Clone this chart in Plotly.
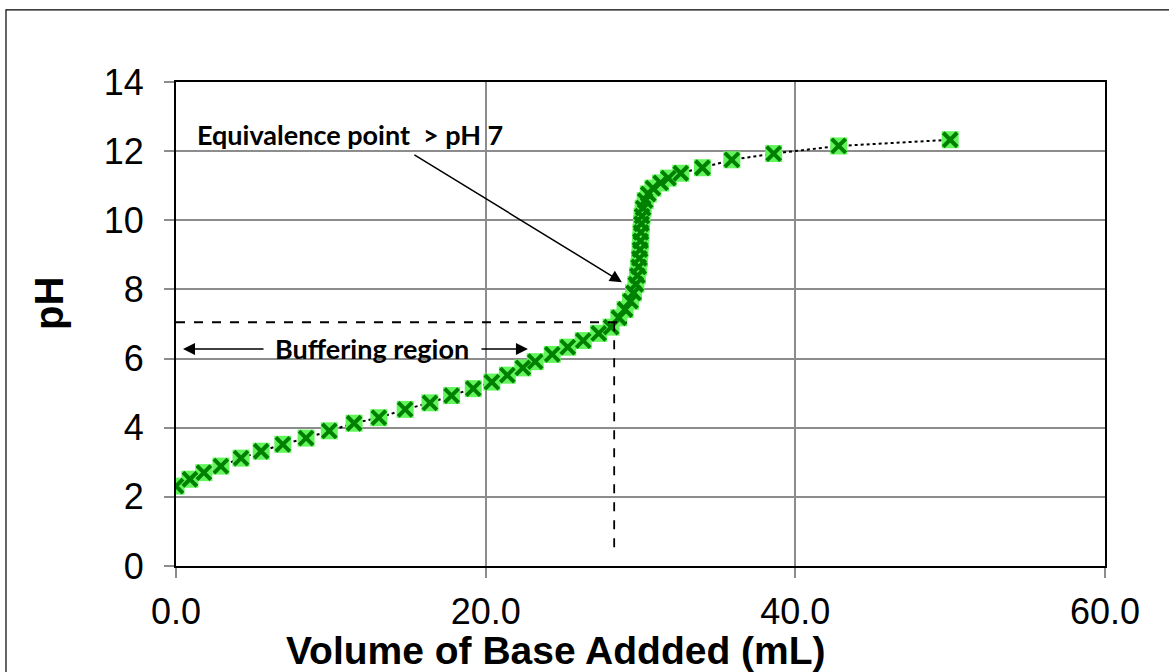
import plotly.graph_objects as go

# Titration data: volume of base added (mL) and pH
volume_ml = [0, 0.9, 1.8, 2.9, 4.2, 5.5, 6.9, 8.4, 9.9, 11.5, 13.1, 14.8, 16.4, 17.8,
             19.2, 20.4, 21.4, 22.4, 23.2, 24.3, 25.3, 26.3, 27.3, 28.1, 28.6, 29.0,
             29.35, 29.55, 29.7, 29.8, 29.88, 29.93, 29.97, 30.0, 30.03, 30.06, 30.1,
             30.17, 30.3, 30.5, 30.8, 31.3, 31.8, 32.6, 34.0, 35.9, 38.6, 42.8, 50.0]
ph_values = [2.31, 2.51, 2.70, 2.89, 3.12, 3.32, 3.52, 3.70, 3.91, 4.13, 4.29, 4.53, 4.72,
             4.93, 5.13, 5.32, 5.52, 5.73, 5.91, 6.12, 6.33, 6.52, 6.73, 6.91, 7.18, 7.42,
             7.66, 7.90, 8.15, 8.40, 8.65, 8.90, 9.15, 9.40, 9.65, 9.90, 10.12, 10.35,
             10.57, 10.76, 10.93, 11.08, 11.22, 11.36, 11.52, 11.75, 11.93, 12.15, 12.33]

x_ticks = [0, 20, 40, 60]
y_ticks = [0, 2, 4, 6, 8, 10, 12, 14]

# Reference guide values
guide_volume = 28.3
guide_ph = 7.05
guide_h_end = 29.1
guide_v_bottom = 0.33

# Annotation anchor values (data units)
eq_label_pos = (1.2, 12.47)
eq_arrow_tail = (15.3, 11.92)
eq_arrow_head = (28.8, 8.21)
buf_label_pos = (12.66, 6.28)
buf_left_tail, buf_left_head = 5.75, 0.45
buf_right_tail, buf_right_head = 19.63, 22.73

fig = go.Figure()

fig.add_trace(go.Scatter(
    x=volume_ml, y=ph_values, mode="lines",
    line=dict(color="black", width=2, dash="dot"),
    hoverinfo="skip", showlegend=False))
fig.add_trace(go.Scatter(
    x=volume_ml, y=ph_values, mode="markers",
    marker=dict(symbol="square", size=17, color="#62F55C", line=dict(width=0)),
    showlegend=False))
fig.add_trace(go.Scatter(
    x=volume_ml, y=ph_values, mode="markers",
    marker=dict(symbol="x-thin-open", size=14, color="#008000",
                line=dict(color="#008000", width=4)),
    showlegend=False))

# dashed guide lines
fig.add_trace(go.Scatter(
    x=[0, guide_h_end], y=[guide_ph, guide_ph], mode="lines",
    line=dict(color="black", width=1.8, dash="dash"), showlegend=False, hoverinfo="skip"))
fig.add_trace(go.Scatter(
    x=[guide_volume, guide_volume], y=[guide_ph, guide_v_bottom], mode="lines",
    line=dict(color="black", width=1.8, dash="dash"), showlegend=False, hoverinfo="skip"))

ann_font = dict(family="Lato", size=27, color="black")
fig.add_annotation(x=eq_label_pos[0], y=eq_label_pos[1], xref="x", yref="y",
                   text="<b>Equivalence point  &gt; pH 7</b>", showarrow=False,
                   xanchor="left", yanchor="middle", font=ann_font)
fig.add_annotation(x=eq_arrow_head[0], y=eq_arrow_head[1], ax=eq_arrow_tail[0], ay=eq_arrow_tail[1],
                   xref="x", yref="y", axref="x", ayref="y", text="", showarrow=True,
                   arrowhead=2, arrowsize=1.6, arrowwidth=1.5, arrowcolor="black")
fig.add_annotation(x=buf_label_pos[0], y=buf_label_pos[1], xref="x", yref="y",
                   text="<b>Buffering region</b>", showarrow=False,
                   xanchor="center", yanchor="middle", font=ann_font)
fig.add_annotation(x=buf_left_head, y=buf_label_pos[1], ax=buf_left_tail, ay=buf_label_pos[1],
                   xref="x", yref="y", axref="x", ayref="y", text="", showarrow=True,
                   arrowhead=2, arrowsize=1.6, arrowwidth=1.5, arrowcolor="black")
fig.add_annotation(x=buf_right_head, y=buf_label_pos[1], ax=buf_right_tail, ay=buf_label_pos[1],
                   xref="x", yref="y", axref="x", ayref="y", text="", showarrow=True,
                   arrowhead=2, arrowsize=1.6, arrowwidth=1.5, arrowcolor="black")

# axis titles (placed as in the reference, x title sits left of centre)
title_font = dict(family="Liberation Sans, Arial", size=39, color="black")
fig.add_annotation(x=0.409, y=-0.174, xref="paper", yref="paper",
                   text="<b>Volume of Base Addded (mL)</b>", showarrow=False,
                   xanchor="center", yanchor="middle", font=title_font)
fig.add_annotation(x=-0.137, y=0.543, xref="paper", yref="paper",
                   text="<b>pH</b>", showarrow=False, textangle=-90,
                   xanchor="center", yanchor="middle", font=dict(family="Liberation Sans, Arial", size=40, color="black"))

# outer chart border
fig.add_shape(type="rect", xref="paper", yref="paper",
              x0=-0.183, x1=1.1, y0=-0.25, y1=1.149,
              line=dict(color="black", width=1.2), fillcolor="rgba(0,0,0,0)", layer="below")

axis_font = dict(family="Liberation Sans, Arial", size=36, color="black")
fig.update_layout(
    width=1169, height=672,
    margin=dict(l=176, r=64, t=82, b=106),
    paper_bgcolor="white", plot_bgcolor="white",
    xaxis=dict(range=[0, 60], tickvals=x_ticks, tickformat=".1f",
               showgrid=True, gridcolor="#8c8c8c", gridwidth=1.5,
               showline=True, linecolor="black", linewidth=2, mirror=True,
               ticks="outside", ticklen=10, tickcolor="#8c8c8c", tickwidth=1.5,
               tickfont=axis_font, zeroline=False, ticklabelstandoff=3),
    yaxis=dict(range=[0, 14], tickvals=y_ticks,
               showgrid=True, gridcolor="#8c8c8c", gridwidth=1.5,
               showline=True, linecolor="black", linewidth=2, mirror=True,
               ticks="outside", ticklen=10, tickcolor="#8c8c8c", tickwidth=1.5,
               tickfont=axis_font, zeroline=False, ticklabelstandoff=13),
)

fig.write_html("out.html", config={"displayModeBar": False},
               post_script="document.body.style.margin='0';")
